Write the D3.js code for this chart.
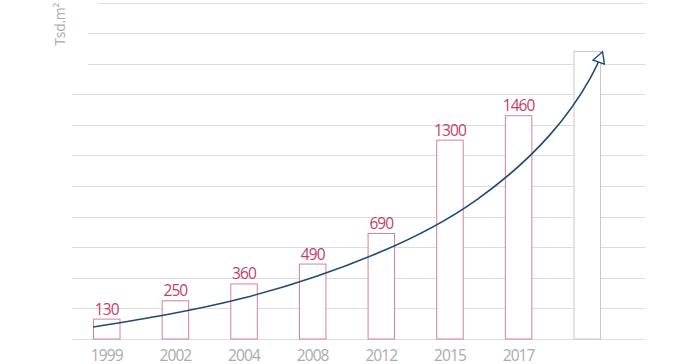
<!DOCTYPE html>
<html>
<head>
<meta charset="utf-8">
<script src="https://cdn.jsdelivr.net/npm/d3@7"></script>
<style>
  body { margin: 0; background: #fff; }
  svg text { font-family: "Open Sans", sans-serif; }
</style>
</head>
<body>
<div id="chart"></div>
<script>
// daten
const years = ["1999", "2002", "2004", "2008", "2012", "2015", "2017", "future"];
const yearLabels = ["1999", "2002", "2004", "2008", "2012", "2015", "2017", ""];
const areas = [130, 250, 360, 490, 690, 1300, 1460, 1880];
const valueLabels = ["130", "250", "360", "490", "690", "1300", "1460", ""];
const gridTicks = [0, 200, 400, 600, 800, 1000, 1200, 1400, 1600, 1800, 2000, 2200];
// trendkurve: position (kategorie-index) und wert
const trendIdx = [-0.19, 2.0, 4.0, 5.39, 6.46, 7.05, 7.23];
const trendVal = [78, 268, 570, 908, 1333, 1704, 1878];

const width = 700, height = 364;

const svg = d3.select("#chart")
  .append("svg")
  .attr("width", width)
  .attr("height", height);

const xScale = d3.scaleBand()
  .domain(years)
  .range([72, 621])
  .paddingInner(0.614)
  .paddingOuter(0.306);

const yScale = d3.scaleLinear()
  .domain([0, 2200])
  .range([339, 2.5]);

// gitterlinien
svg.selectAll(".grid")
  .data(gridTicks)
  .enter()
  .append("line")
  .attr("class", "grid")
  .attr("x1", d => d >= 2200 ? 98 : d >= 1800 ? 88 : 72)
  .attr("x2", 645)
  .attr("y1", d => Math.round(yScale(d)) + 0.5)
  .attr("y2", d => Math.round(yScale(d)) + 0.5)
  .attr("stroke", "#dcdcdc")
  .attr("stroke-width", 1);

// balken
svg.selectAll(".bar")
  .data(years)
  .enter()
  .append("rect")
  .attr("class", "bar")
  .attr("x", d => xScale(d) + 0.5)
  .attr("y", (d, i) => yScale(areas[i]))
  .attr("width", xScale.bandwidth())
  .attr("height", (d, i) => yScale(0) - yScale(areas[i]))
  .attr("fill", "#fff")
  .attr("stroke", (d, i) => i === years.length - 1 ? "#c8c8c8" : "#d6809d")
  .attr("stroke-width", 1);

// werte
svg.selectAll(".val")
  .data(years)
  .enter()
  .append("text")
  .attr("class", "val")
  .attr("x", d => xScale(d) + xScale.bandwidth() / 2 + 0.5)
  .attr("y", (d, i) => yScale(areas[i]) - 4.5)
  .attr("text-anchor", "middle")
  .attr("fill", "#c63d69")
  .attr("font-size", "15.5px")
  .attr("letter-spacing", "-0.9px")
  .text((d, i) => valueLabels[i]);

// jahre
svg.selectAll(".year")
  .data(years)
  .enter()
  .append("text")
  .attr("class", "year")
  .attr("x", d => xScale(d) + xScale.bandwidth() / 2 + 0.5)
  .attr("y", 360.5)
  .attr("text-anchor", "middle")
  .attr("fill", "#ababab")
  .attr("font-size", "15.5px")
  .attr("letter-spacing", "-0.9px")
  .text((d, i) => yearLabels[i]);

// y-achsen titel
svg.append("text")
  .attr("transform", "translate(64.5,3) rotate(-90)")
  .attr("text-anchor", "end")
  .attr("fill", "#ababab")
  .attr("font-size", "14px")
  .attr("letter-spacing", "-0.3px")
  .text("Tsd.m²");

// trendkurve mit pfeil
const step = xScale.step();
const x0 = xScale(years[0]) + xScale.bandwidth() / 2;
const trend = trendIdx.map((t, i) => [x0 + t * step, yScale(trendVal[i])]);

svg.append("defs").append("marker")
  .attr("id", "arrow")
  .attr("markerUnits", "userSpaceOnUse")
  .attr("viewBox", "0 -7 14 14")
  .attr("refX", 12)
  .attr("refY", 0)
  .attr("markerWidth", 14)
  .attr("markerHeight", 14)
  .attr("orient", "auto")
  .append("path")
  .attr("d", "M1,-6L12,0L1,6Z")
  .attr("fill", "#fff")
  .attr("stroke", "#1d4b7a")
  .attr("stroke-width", 1.4)
  .attr("stroke-linejoin", "miter");

svg.append("path")
  .datum(trend)
  .attr("d", d3.line().curve(d3.curveNatural))
  .attr("fill", "none")
  .attr("stroke", "#1d4b7a")
  .attr("stroke-width", 1.6)
  .attr("marker-end", "url(#arrow)");
</script>
</body>
</html>
